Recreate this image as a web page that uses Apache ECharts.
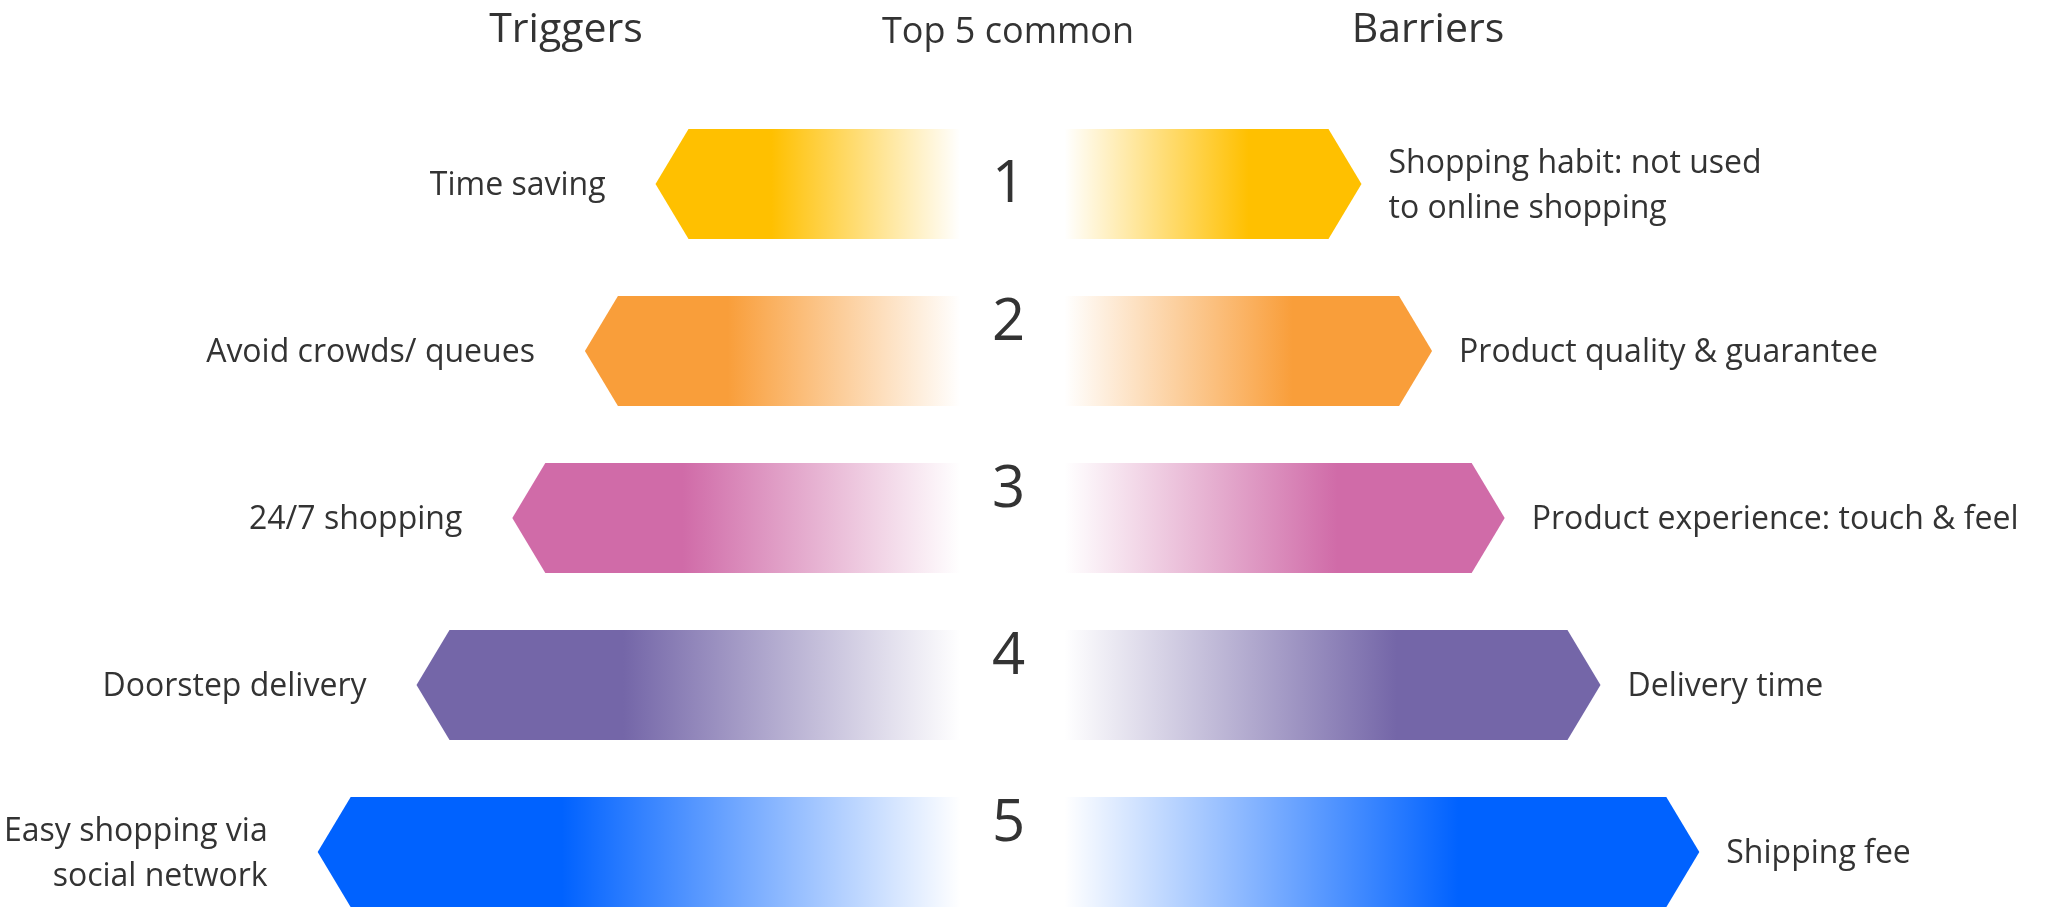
<!DOCTYPE html>
<html>
<head>
<meta charset="utf-8">
<script src="https://cdn.jsdelivr.net/npm/echarts@6/dist/echarts.min.js"></script>
<style>
  html, body { margin: 0; padding: 0; background: #ffffff; }
  #chart { width: 2053px; height: 907px; }
</style>
</head>
<body>
<div id="chart"></div>
<script>
// Rows, ranked from most to least common
const ranks = ['1', '2', '3', '4', '5'];

const triggerLabels = [
  'Time saving',
  'Avoid crowds/ queues',
  '24/7 shopping',
  'Doorstep delivery',
  'Easy shopping via\nsocial network'
];
const triggerScores = [35, 42, 49.2, 58.7, 68.5];

const barrierLabels = [
  'Shopping habit: not used\nto online shopping',
  'Product quality & guarantee',
  'Product experience: touch & feel',
  'Delivery time',
  'Shipping fee'
];
const barrierScores = [35, 42, 49.2, 58.7, 68.5];

const columnTitles = ['Triggers', 'Top 5 common', 'Barriers'];

// Palette, one colour per row
const rowColors = ['#FFC000', '#F99E3A', '#D06BA8', '#7466A8', '#0062FF'];

const FONT = '"Open Sans", "Noto Sans", sans-serif';
const INK = '#333333';
const BAR_RATIO = 0.66;    // bar thickness as a share of the row band
const NOTCH = 33;          // depth of the arrow point, px
const SOLID_SHARE = 0.38;  // part of each bar that keeps the full colour
const INNER_GAP = { left: 48, right: 56 }; // space kept free around the centre line

// Arrow-shaped bar that grows outwards from the centre line, with its label beyond the point
function arrowBar(side, labels) {
  return function (params, api) {
    const i = params.dataIndex;
    const v = api.value(0);
    const row = api.value(1);
    const mid = api.coord([0, row]);
    const tip = api.coord([v, row]);
    const h = api.size([0, 1])[1] * BAR_RATIO;
    const cy = mid[1];
    const base = mid[0] + (side < 0 ? -INNER_GAP.left : INNER_GAP.right);
    const tx = tip[0];
    const corner = tx - side * NOTCH;
    const color = rowColors[i];
    const clear = echarts.color.modifyAlpha(color, 0);
    const stops = side < 0
      ? [{ offset: 0, color: color }, { offset: SOLID_SHARE, color: color }, { offset: 1, color: clear }]
      : [{ offset: 0, color: clear }, { offset: 1 - SOLID_SHARE, color: color }, { offset: 1, color: color }];

    return {
      type: 'group',
      children: [
        {
          type: 'polygon',
          shape: {
            points: [
              [tx, cy],
              [corner, cy - h / 2],
              [base, cy - h / 2],
              [base, cy + h / 2],
              [corner, cy + h / 2]
            ]
          },
          style: { fill: new echarts.graphic.LinearGradient(0, 0, 1, 0, stops) }
        },
        {
          type: 'text',
          x: side < 0 ? tx - 50 : tx + 27,
          y: cy + 2,
          style: {
            text: labels[i],
            align: side < 0 ? 'right' : 'left',
            verticalAlign: 'middle',
            font: '32px ' + FONT,
            lineHeight: 45,
            fill: INK
          }
        }
      ]
    };
  };
}

// Rank number on the centre line of each row; all but the first sit in the upper half
function rankNumber(params, api) {
  const i = params.dataIndex;
  const p = api.coord([api.value(0), api.value(1)]);
  return {
    type: 'text',
    x: p[0],
    y: p[1] + (i === 0 ? 1 : -28),
    style: {
      text: ranks[i],
      align: 'center',
      verticalAlign: 'middle',
      font: '58px ' + FONT,
      fill: INK
    }
  };
}

const chart = echarts.init(document.getElementById('chart'), null, { renderer: 'canvas' });

chart.setOption({
  backgroundColor: '#ffffff',
  animation: false,
  graphic: [
    { type: 'text', x: 566, y: 30, style: { text: columnTitles[0], align: 'center', verticalAlign: 'middle', font: '41px ' + FONT, fill: INK } },
    { type: 'text', x: 1008, y: 33, style: { text: columnTitles[1], align: 'center', verticalAlign: 'middle', font: '36px ' + FONT, fill: INK } },
    { type: 'text', x: 1428, y: 30, style: { text: columnTitles[2], align: 'center', verticalAlign: 'middle', font: '41px ' + FONT, fill: INK } }
  ],
  grid: { left: 0, width: 2017, top: 100.5, height: 835, outerBoundsMode: 'none' },
  xAxis: { type: 'value', min: -100, max: 100, show: false },
  yAxis: { type: 'category', data: ranks, inverse: true, show: false },
  series: [
    {
      name: columnTitles[0],
      type: 'custom',
      renderItem: arrowBar(-1, triggerLabels),
      encode: { x: 0, y: 1 },
      data: triggerScores.map((v, i) => [-v, i])
    },
    {
      name: columnTitles[2],
      type: 'custom',
      renderItem: arrowBar(1, barrierLabels),
      encode: { x: 0, y: 1 },
      data: barrierScores.map((v, i) => [v, i])
    },
    {
      name: columnTitles[1],
      type: 'custom',
      renderItem: rankNumber,
      encode: { x: 0, y: 1 },
      data: ranks.map((r, i) => [0, i])
    }
  ]
});
</script>
</body>
</html>
